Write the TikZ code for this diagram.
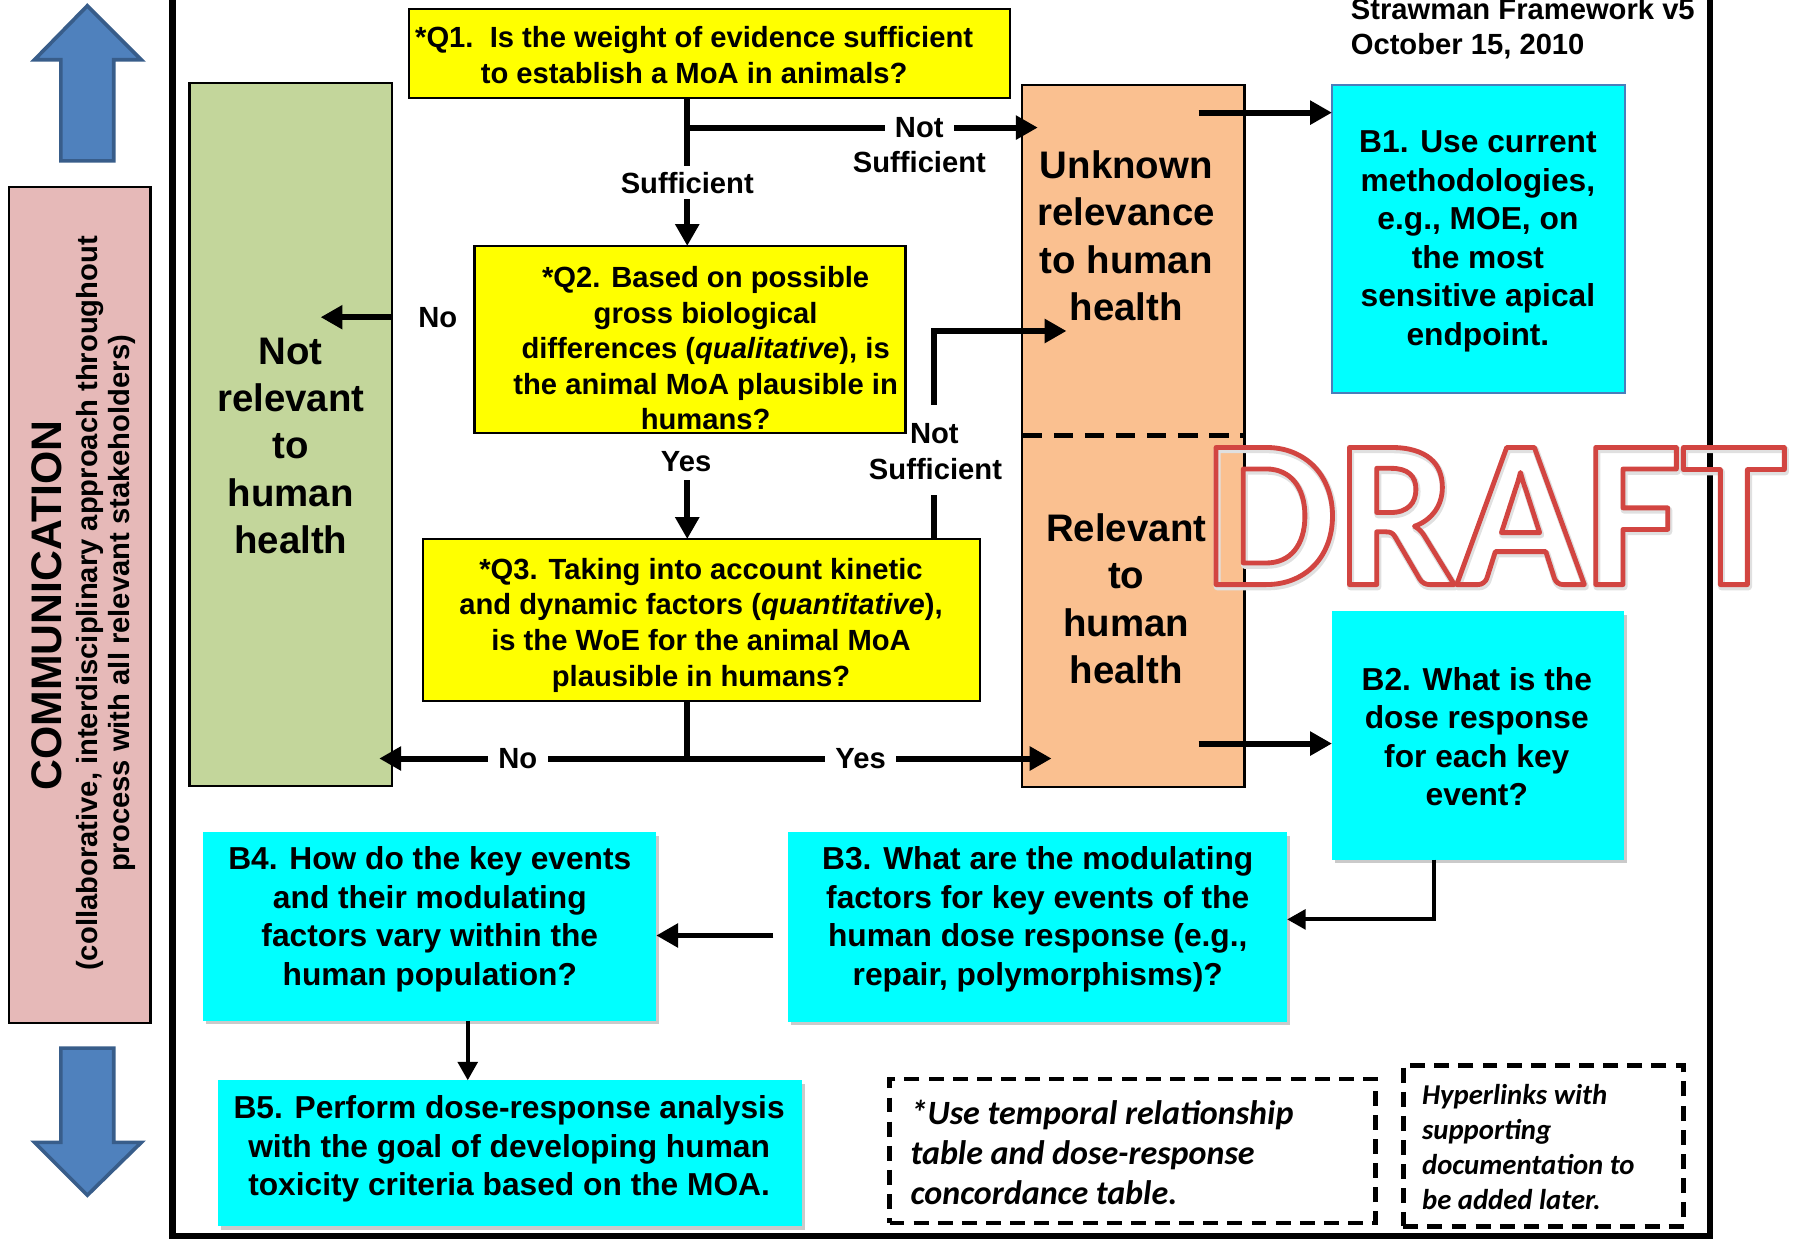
\documentclass[tikz,border=0pt]{standalone}
\usepackage{fontspec}
\setmainfont{Liberation Sans}
\newfontfamily\calib{Carlito}
\newfontfamily\draftfont{Carlito}
\usetikzlibrary{arrows.meta,fit,shadows}
\definecolor{qyellow}{HTML}{FFFF00}
\definecolor{ngreen}{HTML}{C3D69B}
\definecolor{uorange}{HTML}{FAC090}
\definecolor{bcyan}{HTML}{00FFFF}
\definecolor{cpink}{HTML}{E6B9B8}
\definecolor{ablue}{HTML}{4F81BD}
\definecolor{ablueline}{HTML}{385D8A}
\definecolor{draftred}{HTML}{D24541}
\definecolor{bline}{HTML}{4A7EBB}
\newcommand{\outlinetext}[3]{\special{pdf:literal 1 Tr 1 j #1 w #2 RG}#3\special{pdf:literal 0 Tr}}
\begin{document}
\begin{tikzpicture}[x=0.5pt,y=-0.5pt,
  >={Triangle[length=9.5pt,width=10pt]},
  box/.style={inner sep=0pt, outer sep=0pt},
  qbox/.style={box, draw=black, line width=1pt, fill=qyellow},
  sbox/.style={box, draw=black, line width=1pt},
  cbox/.style={box, fill=bcyan, drop shadow={shadow xshift=1.2pt, shadow yshift=-1.5pt, opacity=0.35, fill=black!60}},
  qtext/.style={font=\bfseries\fontsize{12.7}{15.5}\selectfont, align=center, inner sep=0pt},
  ctext/.style={font=\bfseries\fontsize{13.8}{16.75}\selectfont, align=center, inner sep=0pt},
  bigtext/.style={font=\bfseries\fontsize{16.7}{20.6}\selectfont, align=center, inner sep=0pt},
  lbl/.style={font=\bfseries\fontsize{12.7}{15}\selectfont, inner sep=0pt},
  lblw/.style={lbl, fill=white, inner xsep=4.5pt, inner ysep=2.5pt},
  conn/.style={line width=2.6pt},
  arr/.style={conn, ->},
  thinarr/.style={line width=1.7pt, -{Triangle[length=8pt,width=8.5pt]}},
  frameline/.style={line width=2.8pt},
  dashbox/.style={box, draw=black, line width=2pt, dash pattern=on 6.5pt off 4pt},
  blockarrow/.style={fill=ablue, draw=ablueline, line width=1.6pt, line join=miter},
  ditext/.style={align=left, anchor=west, inner sep=0pt},
  draftstyle/.style={font=\draftfont\bfseries\fontsize{92}{92}\selectfont, inner sep=0pt},
]
\useasboundingbox (0,0) rectangle (1568,1078);

% outer frame
\draw[frameline] (150,-5) -- (150,1076) -- (1488,1076) -- (1488,-5);

% block arrows
\filldraw[blockarrow] (76,5) -- (123,52) -- (99,52) -- (99,140) -- (53,140) -- (53,52) -- (30,52) -- cycle;
\filldraw[blockarrow] (53,912) -- (99,912) -- (99,994) -- (123,994) -- (76,1040) -- (30,994) -- (53,994) -- cycle;

% communication bar
\node[sbox, fill=cpink, fit={(8,163) (131,890)}] (comm) {};
\node[rotate=90, font=\bfseries\fontsize{18.6}{20}\selectfont, inner sep=0pt] (commt) at (41,527) {COMMUNICATION};
\node[rotate=90, font=\bfseries\fontsize{12.7}{14}\selectfont, align=center, inner sep=0pt] (commsub) at (92,525) {(collaborative, interdisciplinary approach throughout\\process with all relevant stakeholders)};

% title
\node[font=\bfseries\fontsize{12.7}{15}\selectfont, anchor=base west, inner sep=0pt] (title1) at (1175,17) {Strawman Framework v5};
\node[font=\bfseries\fontsize{12.7}{15}\selectfont, anchor=base west, inner sep=0pt] (title2) at (1175,47) {October 15, 2010};

% boxes
\node[qbox, fit={(356,8) (879,85)}] (q1) {};
\node[qtext] (q1t) at (604,48) {*Q1.\ \ Is the weight of evidence sufficient\\to establish a MoA in animals?};

\node[sbox, fill=ngreen, fit={(165,72) (341,684)}] (green) {};
\node[bigtext] (greent) at (253,388) {Not\\relevant\\to\\human\\health};

\node[sbox, fill=uorange, fit={(889,74) (1083,685)}] (orange) {};
\draw[line width=2pt, dash pattern=on 8.5pt off 5pt] (890,379) -- (1082,379);
\node[bigtext] (unk) at (980,205) {Unknown\\relevance\\to human\\health};
\node[bigtext] (rel) at (980,521) {Relevant\\to\\human\\health};

\node[box, fill=bcyan, draw=bline, line width=0.8pt, fit={(1159,74) (1414,342)}] (b1) {};
\node[ctext] (b1t) at (1286,210) {B1. Use current\\methodologies,\\e.g., MOE, on\\the most\\sensitive apical\\endpoint.};

\node[qbox, fit={(413,214) (788,377)}] (q2) {};
\node[qtext] (q2t) at (614,303) {*Q2. Based on possible\\gross biological\\differences (\textit{qualitative}), is\\the animal MoA plausible in\\humans?};

\node[qbox, fit={(368,469) (853,610)}] (q3) {};
\node[qtext] (q3t) at (610,544) {*Q3. Taking into account kinetic\\and dynamic factors (\textit{quantitative}),\\is the WoE for the animal MoA\\plausible in humans?};

\node[cbox, fit={(1159,532) (1413,748)}] (b2) {};
\node[ctext] (b2t) at (1285,641) {B2. What is the\\dose response\\for each key\\event?};

\node[cbox, fit={(686,724) (1120,889)}] (b3) {};
\node[ctext] (b3t) at (903,800) {B3. What are the modulating\\factors for key events of the\\human dose response (e.g.,\\repair, polymorphisms)?};

\node[cbox, fit={(177,724) (571,888)}] (b4) {};
\node[ctext] (b4t) at (374,800) {B4. How do the key events\\and their modulating\\factors vary within the\\human population?};

\node[cbox, fit={(190,940) (698,1067)}] (b5) {};
\node[ctext] (b5t) at (443,1000) {B5. Perform dose-response analysis\\with the goal of developing human\\toxicity criteria based on the MOA.};

\node[dashbox, fit={(774,939) (1197,1064)}] (d1) {};
\node[ditext, font=\calib\bfseries\itshape\fontsize{14.8}{17.5}\selectfont] (d1t) at (792,1003) {*Use temporal relationship\\table and dose-response\\concordance table.};

\node[dashbox, fit={(1221,927) (1465,1067)}] (d2) {};
\node[ditext, font=\calib\bfseries\itshape\fontsize{12.5}{15.2}\selectfont] (d2t) at (1237,998) {Hyperlinks with\\supporting\\documentation to\\be added later.};

% connectors
\coordinate (cx) at (598,0);
\draw[arr] (cx |- q1.south) -- node[lblw, pos=0.574] (suf0) {Sufficient} (cx |- q2.north);

\coordinate (br1) at (598,111);
\coordinate (nstip1) at (903,111);
\draw[arr] (br1) -- node[lblw, pos=0.662] (not1) {Not} (nstip1);
\node[lbl] (suf1) at (800,141) {Sufficient};

\coordinate (notip) at (279,276);
\draw[arr] (green.east |- notip) -- (notip);
\node[lbl] (no1) at (381,276) {No};

\node[lbl] (yes1) at (597,402) {Yes};
\coordinate (y2s) at (598,418);
\draw[arr] (y2s) -- (y2s |- q3.north);

\coordinate (ns2a) at (813,431);
\coordinate (ns2b) at (813,352);
\coordinate (ns2c) at (813,288);
\coordinate (ns2tip) at (928,288);
\draw[conn] (ns2a |- q3.north) -- (ns2a);
\draw[arr] (ns2b) -- (ns2c) -- (ns2tip);
\node[lbl] (not2) at (813,377) {Not};
\node[lbl] (suf2) at (814,408) {Sufficient};

\coordinate (q3j) at (598,660);
\coordinate (tipl) at (330,660);
\coordinate (tipr) at (915,660);
\draw[conn] (q3j |- q3.south) -- (q3j);
\draw[arr] (q3j) -- node[lblw, pos=0.55] (no2) {No} (tipl);
\draw[arr] (q3j) -- node[lblw, pos=0.476] (yes2) {Yes} (tipr);

\coordinate (o1s) at (1043,98);
\draw[arr] (o1s) -- (o1s -| b1.west);
\coordinate (o2s) at (1043,647);
\draw[arr] (o2s) -- (o2s -| b2.west);

\coordinate (b2x) at (1248,800);
\draw[thinarr] (b2x |- b2.south) -- (b2x) -- (b2x -| b3.east);

\coordinate (b34) at (673,814);
\draw[arr] (b34) -- (b34 -| b4.east);

\coordinate (b45) at (407,0);
\draw[thinarr] (b45 |- b4.south) -- (b45 |- b5.north);

% DRAFT watermark (outlined text)
\node[draftstyle] (draftshadow) at (1302,451) {\outlinetext{3}{0.88 0.88 0.88}{DRAFT}};
\node[draftstyle] (draft) at (1301,449) {\outlinetext{2.1}{0.824 0.271 0.255}{DRAFT}};
\end{tikzpicture}
\end{document}
